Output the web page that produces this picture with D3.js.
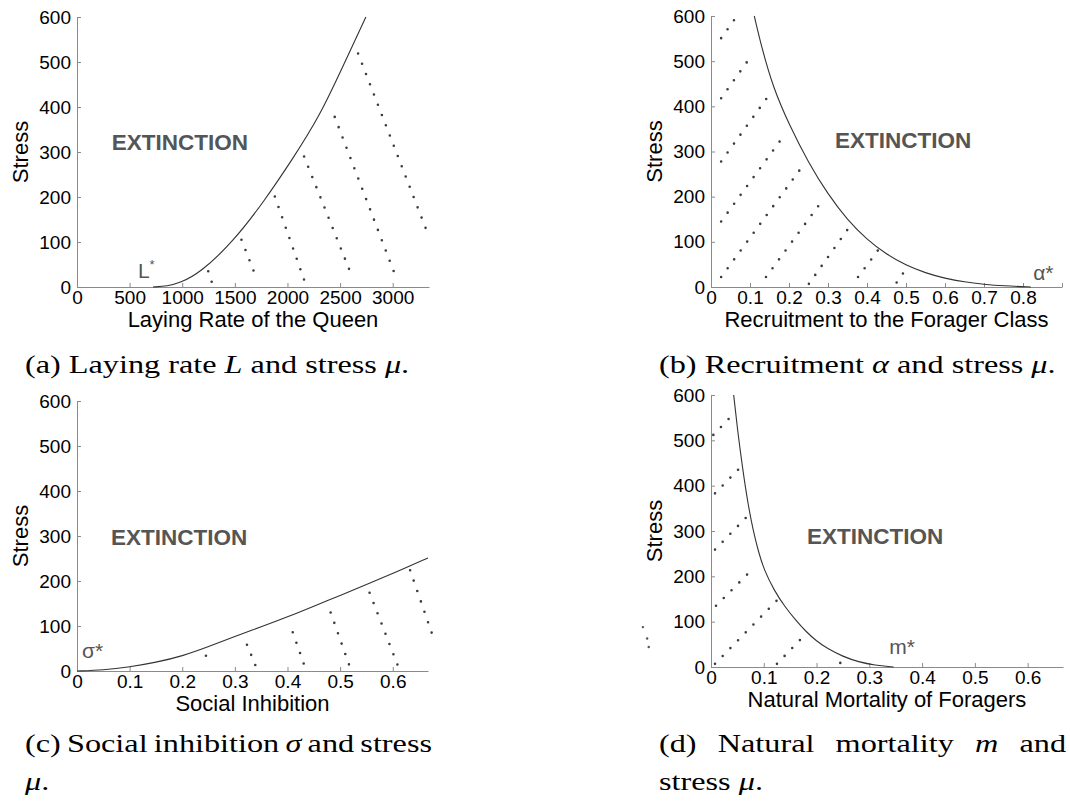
<!DOCTYPE html>
<html>
<head>
<meta charset="utf-8">
<script src="https://cdn.jsdelivr.net/npm/d3@7"></script>
<style>
  body { margin: 0; background: #fff; }
  text { font-family: "Liberation Sans", Arial, sans-serif; }
</style>
</head>
<body>
<div id="chart"></div>
<script>
const width = 1070
const height = 801

// Shared y axis
const stressTicks = [0, 100, 200, 300, 400, 500, 600]

// (a) Laying rate of the queen
const layRate = [722, 860, 978, 1168, 1482, 1786, 2042, 2308, 2546, 2745]
const layStress = [0, 2, 9, 31, 100, 193, 282, 380, 500, 600]
const layDots = [[1247, 35, 1282, 10], [1563, 105, 1715, 14], [1880, 201, 2158, 16],
                 [2158, 290, 2623, 18], [2449, 378, 3044, 14], [2671, 519, 3313, 131]]
const layTicks = [0, 500, 1000, 1500, 2000, 2500, 3000]

// (b) Recruitment to the forager class
const recruit = [0.111, 0.13, 0.16, 0.20, 0.25, 0.30, 0.35, 0.40, 0.45, 0.50, 0.55, 0.60, 0.65, 0.70, 0.75, 0.82]
const recruitStress = [600, 530, 440, 360, 275, 205, 148, 105, 72, 48, 31, 19, 11, 6, 2.5, 0]
const recruitDots = [[0.026, 551, 0.075, 610], [0.026, 418, 0.107, 516], [0.026, 278, 0.158, 436],
                     [0.026, 145, 0.192, 341], [0.026, 22, 0.242, 276], [0.141, 22, 0.291, 198],
                     [0.251, 7, 0.350, 127], [0.377, 22, 0.428, 81], [0.476, 10, 0.493, 31]]
const recruitTicks = [0, 0.1, 0.2, 0.3, 0.4, 0.5, 0.6, 0.7, 0.8, 0.9]

// (c) Social inhibition
const inhib = [0, 0.05, 0.1, 0.15, 0.2, 0.25, 0.3, 0.35, 0.4, 0.45, 0.5, 0.55, 0.6, 0.667]
const inhibStress = [0, 2, 9, 19, 33, 54, 77, 98, 120, 144, 168, 192, 217, 251]
const inhibDots = [[0.245, 34, 0.252, 11], [0.323, 58.5, 0.339, 12.6], [0.41, 86, 0.431, 16],
                   [0.482, 130, 0.517, 14], [0.556, 174, 0.609, 14], [0.633, 224, 0.674, 85]]
const inhibTicks = [0, 0.1, 0.2, 0.3, 0.4, 0.5, 0.6]

// (d) Natural mortality of foragers
const mort = [0.043, 0.05, 0.06, 0.07, 0.08, 0.09, 0.10, 0.12, 0.14, 0.16, 0.18, 0.20, 0.22, 0.25, 0.28, 0.31, 0.346]
const mortStress = [600, 525, 437, 360, 300, 254, 216, 168, 133, 104, 78, 57, 41, 23, 11, 4, 0]
const mortDots = [[0.0044, 512, 0.035, 549], [0.0076, 383, 0.052, 436], [0.0076, 259, 0.066, 329],
                  [0.0095, 135, 0.083, 221], [0.0076, 7, 0.125, 147], [0.125, 7, 0.169, 60],
                  [0.245, 9, 0.246, 10]]
const mortStray = [[-0.129, 88], [-0.121, 63], [-0.118, 44]]
const mortTicks = [0, 0.1, 0.2, 0.3, 0.4, 0.5, 0.6]

const svg = d3.select("div#chart").append("svg").attr("width", width).attr("height", height)

const panels = [
  {left: 77, right: 429, top: 17, bottom: 287, xMax: 3345, xs: layRate, ys: layStress, dots: layDots,
   ticks: layTicks, title: "Laying Rate of the Queen", ext: [330, 305], star: "L", starAt: [579, 20]},
  {left: 711, right: 1062, top: 16, bottom: 287, xMax: 0.9, xs: recruit, ys: recruitStress, dots: recruitDots,
   ticks: recruitTicks, hideLast: true, title: "Recruitment to the Forager Class", ext: [0.318, 308], star: "α", starAt: [0.826, 15]},
  {left: 77, right: 428, top: 401, bottom: 671, xMax: 0.667, xs: inhib, ys: inhibStress, dots: inhibDots,
   ticks: inhibTicks, title: "Social Inhibition", ext: [0.0645, 279], star: "σ", starAt: [0.0095, 28]},
  {left: 711, right: 1063, top: 395, bottom: 667, xMax: 0.667, xs: mort, ys: mortStress, dots: mortDots,
   stray: mortStray, ticks: mortTicks, title: "Natural Mortality of Foragers", ext: [0.182, 271], star: "m", starAt: [0.338, 28]}
]

panels.forEach(drawPanel)

function drawPanel(p) {
  const x = d3.scaleLinear().domain([0, p.xMax]).range([p.left, p.right])
  const y = d3.scaleLinear().domain([0, 600]).range([p.bottom, p.top])
  const g = svg.append("g")

  const xAxis = d3.axisBottom(x).tickValues(p.ticks).tickSizeInner(-4).tickSizeOuter(0).tickPadding(4)
    .tickFormat((d, i) => (p.hideLast && i === p.ticks.length - 1) ? "" : String(d))
  const yAxis = d3.axisLeft(y).tickValues(stressTicks).tickSizeInner(-4).tickSizeOuter(0).tickPadding(6)

  const xg = g.append("g").attr("transform", `translate(0, ${p.bottom})`).call(xAxis)
  const yg = g.append("g").attr("transform", `translate(${p.left}, 0)`).call(yAxis)
  ;[xg, yg].forEach(a => {
    a.attr("font-size", 19).attr("font-family", "Liberation Sans, Arial, sans-serif")
    a.selectAll("path, line").attr("stroke", "#8a8a8a")
    a.selectAll("text").attr("fill", "#000")
  })

  // Dotted sample lines
  g.selectAll("path.dots").data(p.dots).join("path").attr("class", "dots")
    .attr("d", d => d3.line()([[x(d[0]), y(d[1])], [x(d[2]), y(d[3])]]))
    .attr("fill", "none").attr("stroke", "#3c3c3c").attr("stroke-width", 2.6)
    .attr("stroke-linecap", "round").attr("stroke-dasharray", "0 11")

  if (p.stray) {
    g.selectAll("circle.stray").data(p.stray).join("circle").attr("class", "stray")
      .attr("cx", d => x(d[0])).attr("cy", d => y(d[1])).attr("r", 1.2).attr("fill", "#555")
  }

  // Extinction boundary
  const curve = d3.line().x(i => x(p.xs[i])).y(i => y(p.ys[i])).curve(d3.curveBasis)
  g.append("path").attr("d", curve(d3.range(p.xs.length)))
    .attr("fill", "none").attr("stroke", "#333").attr("stroke-width", 1.1)

  // Labels
  g.append("text").attr("x", (p.left + p.right) / 2).attr("y", p.bottom + 40)
    .attr("text-anchor", "middle").attr("font-size", 22).text(p.title)
  g.append("text").attr("transform", `translate(${p.left - 49}, ${(p.top + p.bottom) / 2}) rotate(-90)`)
    .attr("text-anchor", "middle").attr("font-size", 22).text("Stress")
  g.append("text").attr("x", x(p.ext[0])).attr("y", y(p.ext[1]))
    .attr("font-size", 22.5).attr("font-weight", "bold").attr("fill", "#555").text("EXTINCTION")

  const star = g.append("text").attr("x", x(p.starAt[0])).attr("y", y(p.starAt[1]))
    .attr("font-size", 21).attr("fill", "#555").text(p.star)
  if (p.star === "L") star.append("tspan").attr("font-size", 13).attr("dy", -9).text("*")
  else star.append("tspan").text("*")
}

// Captions (serif, slightly wide; justified lines get extra word spacing)
const capScale = 1.29
const captions = [
  {x: 25, y: 373, parts: [["(a) Laying rate "], ["L", 1], [" and stress "], ["μ", 1], ["."]]},
  {x: 659, y: 373, parts: [["(b) Recruitment "], ["α", 1], [" and stress "], ["μ", 1], ["."]]},
  {x: 25, y: 752, justify: 407, parts: [["(c) Social inhibition "], ["σ", 1], [" and stress"]]},
  {x: 25, y: 790, parts: [["μ", 1], ["."]]},
  {x: 659, y: 752, justify: 407, parts: [["(d) Natural mortality "], ["m", 1], [" and"]]},
  {x: 659, y: 790, parts: [["stress "], ["μ", 1], ["."]]}
]

captions.forEach(c => {
  const t = svg.append("text").attr("transform", `translate(${c.x}, ${c.y}) scale(${capScale}, 1)`)
    .attr("font-size", 25).attr("fill", "#000")
    .style("font-family", "Liberation Serif, serif")
  c.parts.forEach(s => t.append("tspan").attr("font-style", s[1] ? "italic" : null).text(s[0]))
  if (c.justify) {
    const natural = t.node().getComputedTextLength()
    const gaps = c.parts.map(s => s[0]).join("").split(" ").length - 1
    t.attr("word-spacing", (c.justify / capScale - natural) / gaps)
  }
})
</script>
</body>
</html>
